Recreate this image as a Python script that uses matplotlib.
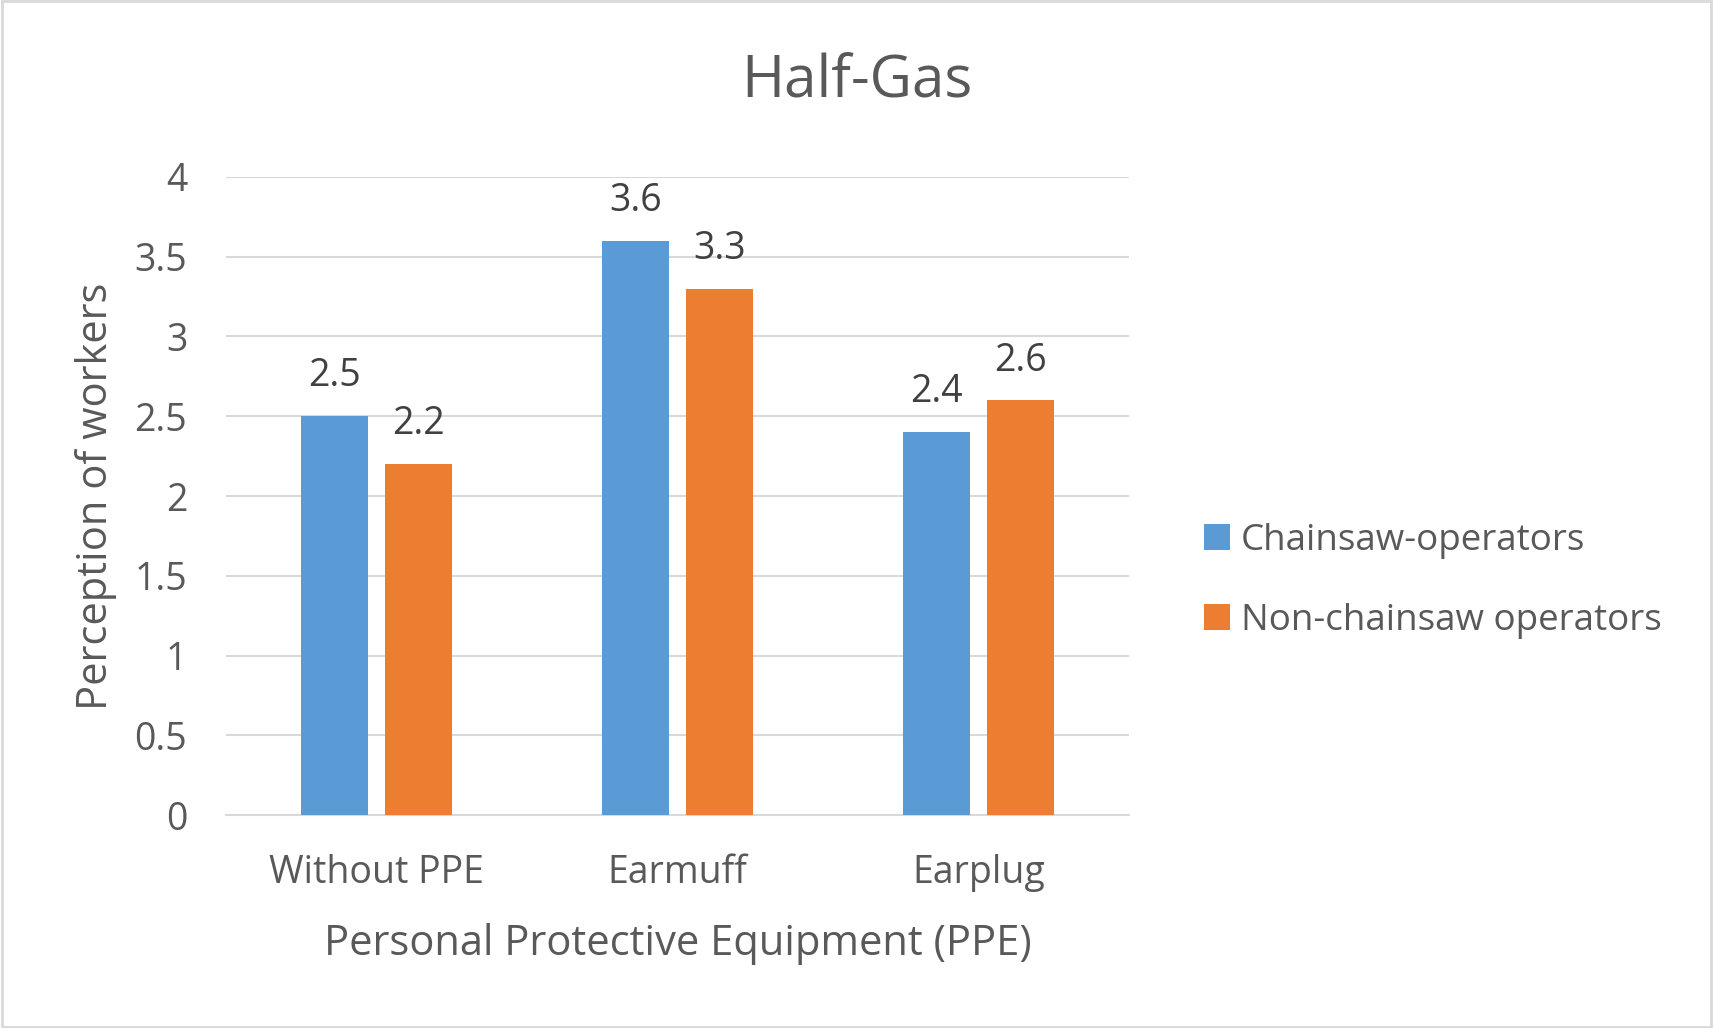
import matplotlib.pyplot as plt
import numpy as np

plt.rcParams['font.family'] = ['Open Sans', 'DejaVu Sans']

categories = ['Without PPE', 'Earmuff', 'Earplug']
chainsaw = [2.5, 3.6, 2.4]
non_chainsaw = [2.2, 3.3, 2.6]
yticks = [0, 0.5, 1, 1.5, 2, 2.5, 3, 3.5, 4]

blue = '#5B9BD5'
orange = '#ED7D31'
grey = '#595959'

fig = plt.figure(figsize=(17.13, 10.28), dpi=100)
ax = fig.add_axes([0.132, 0.207, 0.527, 0.621])

x = np.arange(len(categories))
w = 0.222
off = 0.14
b1 = ax.bar(x - off, chainsaw, width=w, color=blue, label='Chainsaw-operators', zorder=3)
b2 = ax.bar(x + off, non_chainsaw, width=w, color=orange, label='Non-chainsaw operators', zorder=3)

for bars, vals in [(b1, chainsaw), (b2, non_chainsaw)]:
    for r, v in zip(bars, vals):
        ax.text(r.get_x() + r.get_width() / 2, v + 0.13, str(v), ha='center', va='bottom',
                fontsize=27, color='#404040')

ax.set_xlim(-0.5, 2.5)
ax.set_ylim(0, 4)
ax.set_yticks(yticks)
ax.set_yticklabels([f'{t:g}' for t in yticks])
ax.set_xticks(x)
ax.set_xticklabels(categories)
ax.tick_params(axis='both', length=0, labelsize=27, colors=grey)
ax.tick_params(axis='x', pad=28)
ax.tick_params(axis='y', pad=28)
ax.yaxis.grid(True, color='#D9D9D9', linewidth=1.5, zorder=0)
for s in ['top', 'right', 'left']:
    ax.spines[s].set_visible(False)
ax.spines['bottom'].set_color('#D9D9D9')
ax.spines['bottom'].set_linewidth(1.5)

ax.set_xlabel('Personal Protective Equipment (PPE)', fontsize=30, color=grey, labelpad=22)
ax.set_ylabel('Perception of workers', fontsize=30, color=grey, labelpad=13)
fig.text(0.5, 0.92, 'Half-Gas', ha='center', va='center', fontsize=42, color=grey)

ax.legend(loc='center left', bbox_to_anchor=(1.047, 0.367), frameon=False, fontsize=26.5,
          labelcolor=grey, handlelength=0.7, handleheight=0.7, labelspacing=1.2,
          handletextpad=0.3)

fig.patches.append(plt.Rectangle((0.001, 0.001), 0.998, 0.998, transform=fig.transFigure,
                                 fill=False, edgecolor='#D9D9D9', linewidth=2))

fig.savefig('out.png', dpi=100)
